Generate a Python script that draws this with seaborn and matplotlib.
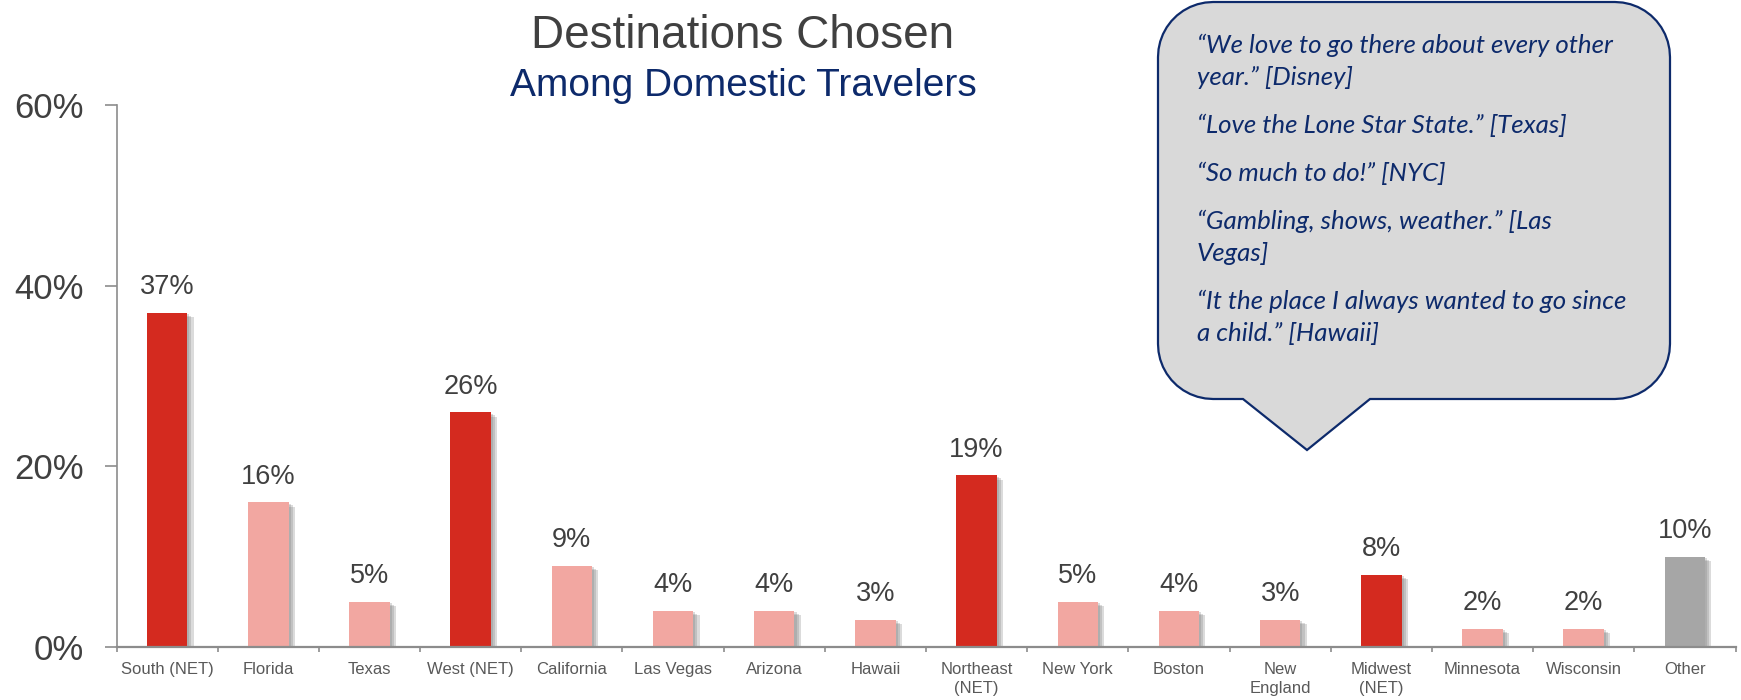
import numpy as np
import matplotlib
matplotlib.use("Agg")
import matplotlib.pyplot as plt
import matplotlib.patheffects as pe
from matplotlib.path import Path
from matplotlib.patches import PathPatch
import seaborn as sns

categories = ["South (NET)", "Florida", "Texas", "West (NET)", "California", "Las Vegas",
              "Arizona", "Hawaii", "Northeast\n(NET)", "New York", "Boston", "New\nEngland",
              "Midwest\n(NET)", "Minnesota", "Wisconsin", "Other"]
values = [37, 16, 5, 26, 9, 4, 4, 3, 19, 5, 4, 3, 8, 2, 2, 10]
groups = ["net", "sub", "sub", "net", "sub", "sub", "sub", "sub", "net", "sub", "sub", "sub",
          "net", "sub", "sub", "other"]
quotes = [
    ["\u201cWe love to go there about every other", "year.\u201d [Disney]"],
    ["\u201cLove the Lone Star State.\u201d [Texas]"],
    ["\u201cSo much to do!\u201d [NYC]"],
    ["\u201cGambling, shows, weather.\u201d [Las", "Vegas]"],
    ["\u201cIt the place I always wanted to go since", "a child.\u201d [Hawaii]"],
]

group_colors = {"net": "#D42A1F", "sub": "#F2A7A1", "other": "#A6A6A6"}
palette = {c: group_colors[g] for c, g in zip(categories, groups)}

sns.set_style("white")
plt.rcParams["font.family"] = ["Liberation Sans", "DejaVu Sans"]

W, H = 1741, 700
fig = plt.figure(figsize=(W / 100, H / 100), dpi=100)
ax = fig.add_axes([116.5 / W, 53 / H, 1619 / W, 542 / H])

sns.barplot(x=categories, y=values, hue=categories, palette=palette, order=categories,
            width=0.4, legend=False, ax=ax, saturation=1)

# soft drop shadow, built from a few offset layers
shadow = [pe.SimplePatchShadow(offset=(o, -0.7 * o), shadow_rgbFace="#7F7F7F", alpha=0.28)
          for o in (1.5, 3, 4.5)] + [pe.Normal()]
for p in ax.patches:
    p.set_path_effects(shadow)
    p.set_linewidth(0)

for cont in ax.containers:
    ax.bar_label(cont, labels=[f"{v:.0f}%" for v in cont.datavalues], padding=9,
                 fontsize=19.5, color="#404040")

ax.set_ylim(0, 60)
ax.set_xlim(-0.5, len(categories) - 0.5)
ax.set_yticks([0, 20, 40, 60])
ax.set_yticklabels(["0%", "20%", "40%", "60%"], fontsize=25, color="#404040")
ax.tick_params(axis="y", length=8.6, width=1.2, color="#8C8C8C", pad=15, left=True)
ax.tick_params(axis="x", which="major", length=0, pad=11, labelsize=12, labelcolor="#595959")
ax.set_xticks(np.arange(-0.5, len(categories), 1), minor=True)
ax.tick_params(axis="x", which="minor", length=3.5, width=1.2, color="#8C8C8C", bottom=True)
for lab in ax.get_xticklabels():
    lab.set_linespacing(1.3)

sns.despine(ax=ax)
ax.spines["left"].set_color("#8C8C8C")
ax.spines["left"].set_linewidth(1.2)
ax.spines["bottom"].set_color("#8C8C8C")
ax.spines["bottom"].set_linewidth(1.6)
ax.set_xlabel("")
ax.set_ylabel("")

fig.text(743 / W, 1 - 48 / H, "Destinations Chosen", ha="center", va="baseline",
         fontsize=33, color="#404040")
fig.text(743 / W, 1 - 96 / H, "Among Domestic Travelers", ha="center", va="baseline",
         fontsize=28, color="#0D2A6B")

# speech bubble
x0, x1, y0, y1, r = 1158, 1670, 2, 399, 55
px0, px1, tipx, tipy = 1243, 1370, 1307, 450


def arc(cx, cy, a0, a1):
    t = np.linspace(np.radians(a0), np.radians(a1), 12)
    return list(zip(cx + r * np.cos(t), cy + r * np.sin(t)))


pts = []
pts += arc(x0 + r, y0 + r, 180, 270)
pts += arc(x1 - r, y0 + r, 270, 360)
pts += arc(x1 - r, y1 - r, 0, 90)
pts += [(px1, y1), (tipx, tipy), (px0, y1)]
pts += arc(x0 + r, y1 - r, 90, 180)
pts.append(pts[0])
verts = [(x / W, 1 - y / H) for x, y in pts]
codes = [Path.MOVETO] + [Path.LINETO] * (len(verts) - 2) + [Path.CLOSEPOLY]
bubble = PathPatch(Path(verts, codes), transform=fig.transFigure, facecolor="#D9D9D9",
                   edgecolor="#0D2A6B", linewidth=1.6, zorder=5)
fig.add_artist(bubble)

y = 53
for para in quotes:
    for line in para:
        fig.text(1197 / W, 1 - y / H, line, ha="left", va="baseline", fontsize=18.6,
                 style="italic", color="#0D2A6B", family=["Lato", "DejaVu Sans"], zorder=6)
        y += 32
    y += 16

fig.savefig("out.png", dpi=100)
